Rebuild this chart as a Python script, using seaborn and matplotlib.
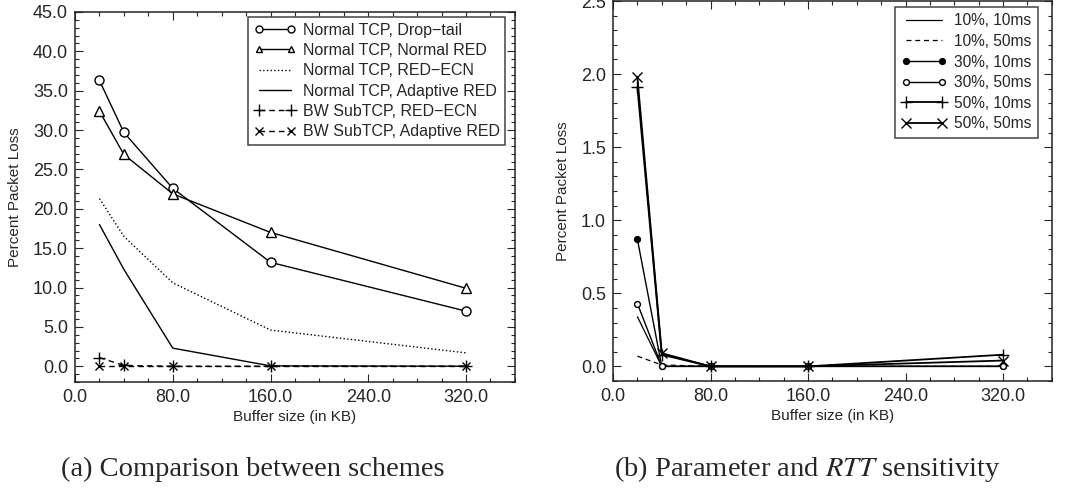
import matplotlib
matplotlib.use("Agg")
import matplotlib.pyplot as plt
from matplotlib.ticker import MultipleLocator, FormatStrFormatter
import seaborn as sns
import pandas as pd

sns.set_style("ticks")
plt.rcParams['font.family'] = ['Liberation Sans', 'DejaVu Sans']
plt.rcParams['mathtext.fontset'] = 'stix'

buffer_kb = [20, 40, 80, 160, 320]

# (a) Comparison between schemes
a_labels = ["Normal TCP, Drop\u2212tail", "Normal TCP, Normal RED", "Normal TCP, RED\u2212ECN",
            "Normal TCP, Adaptive RED", "BW SubTCP, RED\u2212ECN", "BW SubTCP, Adaptive RED"]
drop_tail = [36.3, 29.7, 22.6, 13.2, 7.0]
normal_red = [32.4, 26.9, 21.9, 17.0, 9.9]
red_ecn = [21.3, 16.5, 10.6, 4.6, 1.7]
adaptive_red = [18.0, 12.3, 2.3, 0.05, 0.0]
bw_red_ecn = [1.1, 0.1, 0.0, 0.0, 0.0]
bw_adaptive_red = [0.0, 0.0, 0.0, 0.0, 0.0]
a_series = [drop_tail, normal_red, red_ecn, adaptive_red, bw_red_ecn, bw_adaptive_red]

# (b) Parameter and RTT sensitivity
b_labels = ["10%, 10ms", "10%, 50ms", "30%, 10ms", "30%, 50ms", "50%, 10ms", "50%, 50ms"]
p10_10 = [0.34, 0.0, 0.0, 0.0, 0.0]
p10_50 = [0.07, 0.01, 0.0, 0.0, 0.0]
p30_10 = [0.87, 0.0, 0.0, 0.0, 0.0]
p30_50 = [0.43, 0.0, 0.0, 0.0, 0.0]
p50_10 = [1.91, 0.08, 0.0, 0.0, 0.08]
p50_50 = [1.98, 0.09, 0.0, 0.0, 0.04]
b_series = [p10_10, p10_50, p30_10, p30_50, p50_10, p50_50]

a_styles = [
    dict(marker='o', ls='-', ms=6.5, lms=5, mfc='white'),
    dict(marker='^', ls='-', ms=7, lms=5, mfc='white'),
    dict(marker=None, ls=':', ms=0, lms=0, mfc='white'),
    dict(marker=None, ls='-', ms=0, lms=0, mfc='white'),
    dict(marker='+', ls=(0, (4, 3)), ms=8, lms=8, mfc='white'),
    dict(marker='x', ls=(0, (4, 3)), ms=6, lms=6, mfc='white'),
]
b_styles = [
    dict(marker=None, ls='-', ms=0, lms=0, mfc='white', lw=0.9),
    dict(marker=None, ls=(0, (4, 3)), ms=0, lms=0, mfc='white', lw=0.9),
    dict(marker='o', ls='-', ms=4.2, lms=4.2, mfc='black', lw=1.0),
    dict(marker='o', ls='-', ms=4.2, lms=4.2, mfc='white', lw=1.0),
    dict(marker='+', ls='-', ms=9, lms=9, mfc='white', lw=1.3),
    dict(marker='x', ls='-', ms=6.5, lms=6.5, mfc='white', lw=1.3),
]

fig = plt.figure(figsize=(10.73, 5.0), dpi=100)
ax1 = fig.add_axes([0.0699, 0.236, 0.410, 0.740])
ax2 = fig.add_axes([0.5713, 0.238, 0.409, 0.760])


def draw(ax, series, labels, styles):
    for vals, lab, st in zip(series, labels, styles):
        df = pd.DataFrame({"x": buffer_kb, "y": vals})
        kw = dict(color='black', lw=st.get('lw', 1.0), linestyle=st['ls'], label=lab)
        if st['marker'] is not None:
            kw.update(marker=st['marker'], markersize=st['ms'], markerfacecolor=st['mfc'],
                      markeredgecolor='black', markeredgewidth=1.0)
        sns.lineplot(data=df, x="x", y="y", ax=ax, **kw)


draw(ax1, a_series, a_labels, a_styles)
draw(ax2, b_series, b_labels, b_styles)

for ax in (ax1, ax2):
    ax.set_xlim(0, 360)
    ax.xaxis.set_major_locator(MultipleLocator(80))
    ax.xaxis.set_minor_locator(MultipleLocator(20))
    ax.xaxis.set_major_formatter(FormatStrFormatter('%.1f'))
    ax.tick_params(which='both', direction='in', top=True, right=True, labelsize=13)
    ax.tick_params(which='major', length=6, width=0.8, pad=5)
    ax.tick_params(which='minor', length=3, width=0.8)
    ax.set_xlabel("Buffer size (in KB)", fontsize=11, labelpad=3)
    ax.set_ylabel("Percent Packet Loss", fontsize=11, labelpad=8)
    for s in ax.spines.values():
        s.set_linewidth(1.1)
        s.set_color('#222222')
    ax.grid(False)

ax1.set_ylim(-2, 45)
ax1.yaxis.set_major_locator(MultipleLocator(5))
ax1.yaxis.set_minor_locator(MultipleLocator(1))
ax1.yaxis.set_major_formatter(FormatStrFormatter('%.1f'))

ax2.set_ylim(-0.1, 2.5)
ax2.yaxis.set_major_locator(MultipleLocator(0.5))
ax2.yaxis.set_minor_locator(MultipleLocator(0.1))
ax2.yaxis.set_major_formatter(FormatStrFormatter('%.1f'))

leg1 = ax1.legend(loc='upper right', bbox_to_anchor=(0.978, 0.986), numpoints=2, fontsize=11.5,
                  frameon=True, fancybox=False, edgecolor='#444444', framealpha=1,
                  handlelength=2.6, handletextpad=0.45, borderpad=0.35, labelspacing=0.33,
                  borderaxespad=0.0)
leg1.get_frame().set_linewidth(1.1)
for h, st in zip(leg1.legend_handles, a_styles):
    if st['marker'] is not None:
        h.set_markersize(st['lms'])

leg2 = ax2.legend(loc='upper right', bbox_to_anchor=(0.968, 0.984), numpoints=2, fontsize=11.2,
                  frameon=True, fancybox=False, edgecolor='#444444', framealpha=1,
                  handlelength=2.9, handletextpad=0.5, borderpad=0.4, labelspacing=0.36,
                  borderaxespad=0.0)
leg2.get_frame().set_linewidth(1.1)
for h, st in zip(leg2.legend_handles, b_styles):
    if st['marker'] is not None:
        h.set_markersize(st['lms'])

fig.text(0.236, 0.062, "(a) Comparison between schemes", ha='center', va='center',
         fontsize=20.5, family=['Liberation Serif', 'DejaVu Serif'])
fig.text(0.752, 0.062, "(b) Parameter and $RTT$ sensitivity", ha='center', va='center',
         fontsize=20.5, family=['Liberation Serif', 'DejaVu Serif'])

fig.savefig("out.png", dpi=100)
